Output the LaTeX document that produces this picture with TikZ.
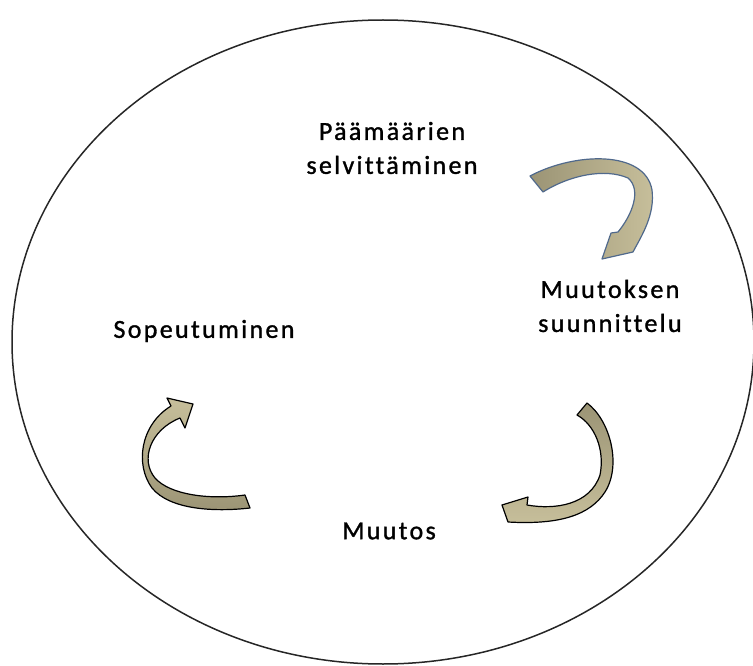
\documentclass[tikz,border=0pt]{standalone}
\usepackage{fontspec}
\setmainfont{Carlito}[LetterSpace=9, Ligatures=CommonOff, FakeBold=1.2]
\usetikzlibrary{positioning}
\definecolor{arrowdark}{RGB}{155,148,117}
\definecolor{arrowlight}{RGB}{199,191,155}
\definecolor{arrowedge}{RGB}{80,105,140}
\tikzset{
  phase/.style={align=center, font=\fontsize{26}{34}\selectfont, inner sep=0pt},
  blockarrow/.style={draw=black, line width=1.2pt, line join=round},
}

\begin{document}
\begin{tikzpicture}[x=1pt,y=-1pt]
\useasboundingbox (0,0) rectangle (753,666);
\draw [line width=1.5pt, draw=black!85] (383,342) ellipse [x radius=371, y radius=322];
\node [phase] (paamaarat) at (392,148) {Päämäärien\\selvittäminen};
\node [phase] (suunnittelu) at (610,306) {Muutoksen\\suunnittelu};
\node [phase] (sopeutuminen) at (204,331) {Sopeutuminen};
\node [phase] (muutos) at (389,531) {Muutos};
% top arrow
\draw [blockarrow, draw=arrowedge, left color=arrowdark, right color=arrowlight]
  (530,176) .. controls (575,152) and (645,150) .. (652,190)
  .. controls (655,215) and (642,235) .. (633,252) -- (602,259) -- (611,233) -- (618,232)
  .. controls (632,215) and (642,190) .. (628,178)
  .. controls (605,168) and (570,175) .. (543,192) -- cycle;
% right arrow
\draw [blockarrow, top color=arrowdark, bottom color=arrowlight]
  (577,415) -- (587,403) .. controls (610,420) and (622,465) .. (605,492)
  .. controls (590,515) and (560,525) .. (508,522) -- (502,505) -- (528,497) -- (527,505)
  .. controls (555,510) and (590,505) .. (600,475)
  .. controls (605,450) and (595,425) .. (577,415) -- cycle;
% left arrow
\draw [blockarrow, top color=arrowlight, bottom color=arrowdark]
  (250,508) -- (245,495) .. controls (210,500) and (170,495) .. (155,478)
  .. controls (140,460) and (150,430) .. (180,418) -- (185,428) -- (193,404) -- (167,398) -- (171,406)
  .. controls (140,425) and (135,465) .. (152,488)
  .. controls (170,510) and (215,512) .. (250,508) -- cycle;
\end{tikzpicture}
\end{document}
